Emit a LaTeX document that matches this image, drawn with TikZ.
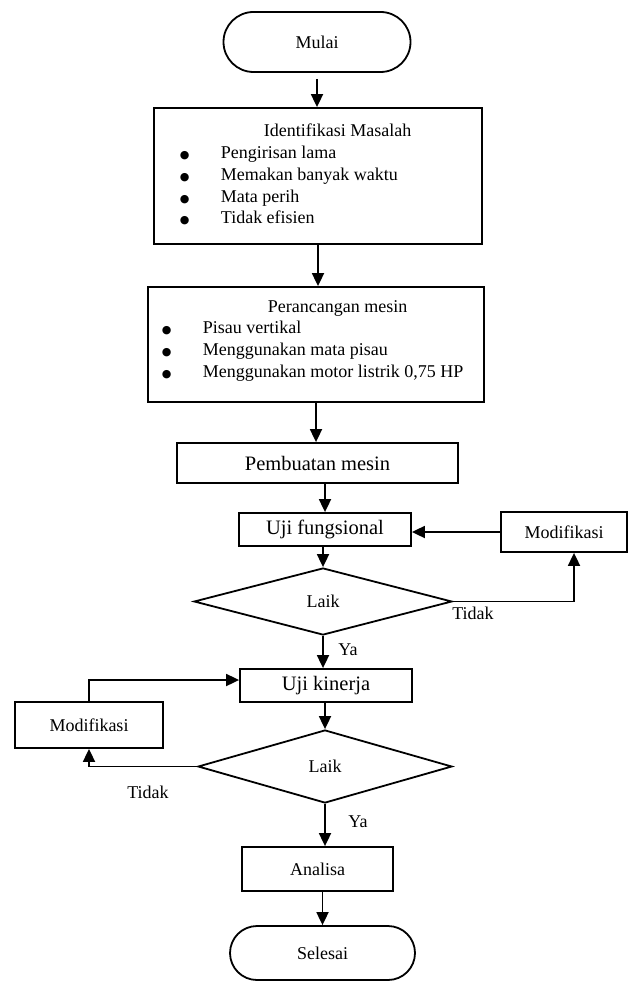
\documentclass[tikz,border=0pt]{standalone}
\usepackage{fontspec}
\setmainfont{Liberation Serif}
\newfontfamily\dejavu{DejaVu Sans}
\usetikzlibrary{shapes.geometric,arrows.meta}
\newcommand{\bul}{{\dejavu\fontsize{11}{0}\selectfont ●}}
\begin{document}
\begin{tikzpicture}[x=1pt,y=-1pt,line width=1.8pt,
    font=\fontsize{18}{21.7}\selectfont,
    term/.style={draw,rectangle,rounded corners=27pt,minimum height=54pt},
    proc/.style={draw,rectangle,inner sep=2pt},
    big/.style={font=\fontsize{20.5}{24}\selectfont},
    dec/.style={draw,diamond,inner sep=0pt},
    lbl/.style={inner sep=1pt},
    arr/.style={-{Triangle[length=13pt,width=12pt]}}]
\useasboundingbox (0,0) rectangle (629,981);
\node[term,rounded corners=30pt,minimum height=60pt,minimum width=187pt] (mulai) at (317,42) {Mulai};
\node[proc,minimum width=328pt,minimum height=136pt] (ident) at (318,176) {};
\node[anchor=base west,inner sep=0pt] (identtxt) at (179,137) {%
    \begin{tabular}[t]{@{}p{41pt}@{}l@{}}
    \multicolumn{2}{@{}l@{}}{\hspace{84pt}Identifikasi Masalah}\\
    \bul & Pengirisan lama\\
    \bul & Memakan banyak waktu\\
    \bul & Mata perih\\
    \bul & Tidak efisien
    \end{tabular}};
\node[proc,minimum width=336pt,minimum height=115pt] (ranc) at (316,344.5) {};
\node[anchor=base west,inner sep=0pt] (ranctxt) at (161,312) {%
    \begin{tabular}[t]{@{}p{41pt}@{}l@{}}
    \multicolumn{2}{@{}l@{}}{\hspace{106pt}Perancangan mesin}\\
    \bul & Pisau vertikal\\
    \bul & Menggunakan mata pisau\\
    \bul & Menggunakan motor listrik 0,75 HP
    \end{tabular}};
\node[proc,big,minimum width=281pt,minimum height=40pt] (buat) at (317.5,463) {Pembuatan mesin};
\node[proc,big,minimum width=172pt,minimum height=33pt] (ufung) at (325,529.5) {Uji fungsional};
\node[proc,minimum width=126pt,minimum height=40pt] (modif1) at (564,532) {Modifikasi};
\node[dec,aspect=3.85,minimum width=258pt,minimum height=67pt] (laik1) at (323,601.5) {Laik};
\node[proc,big,minimum width=172pt,minimum height=33pt] (ukin) at (326,685.5) {Uji kinerja};
\node[proc,minimum width=148pt,minimum height=46pt] (modif2) at (89,725) {Modifikasi};
\node[dec,aspect=3.5,minimum width=254pt,minimum height=73pt] (laik2) at (325,766.5) {Laik};
\node[proc,minimum width=151pt,minimum height=44pt] (analisa) at (317.5,869) {Analisa};
\node[term,minimum width=185pt] (selesai) at (322.5,953) {Selesai};
\node[lbl] (tidak1) at (473,613) {Tidak};
\node[lbl] (ya1) at (348,650) {Ya};
\node[lbl] (tidak2) at (148,792) {Tidak};
\node[lbl] (ya2) at (358,822) {Ya};
\draw[arr,shorten <=6pt] (mulai.south) -- (mulai.south |- ident.north);
\draw[arr] (ident.south) -- (ident.south |- ranc.north);
\draw[arr] (ranc.south) -- (ranc.south |- buat.north);
\draw[arr] (ufung.north |- buat.south) -- (ufung.north);
\draw[arr] (laik1.north |- ufung.south) -- (laik1.north);
\draw[arr] (modif1.west) -- (modif1.west -| ufung.east);
\draw[arr] (laik1.east) -| ([xshift=10pt]modif1.south);
\draw[arr] (laik1.south) -- (laik1.south |- ukin.north);
\draw[arr] (laik2.north |- ukin.south) -- (laik2.north);
\draw[arr] (modif2.north) |- ([yshift=5.5pt]ukin.west);
\draw[arr] (laik2.west) -| (modif2.south);
\draw[arr] (laik2.south) -- (laik2.south |- analisa.north);
\draw[arr] (selesai.north |- analisa.south) -- (selesai.north);
\end{tikzpicture}
\end{document}
